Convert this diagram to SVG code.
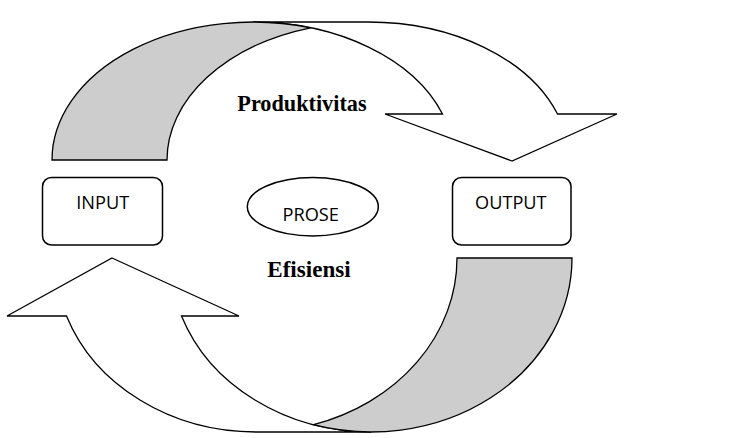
<svg xmlns="http://www.w3.org/2000/svg" width="734" height="438" viewBox="0 0 734 438">
<style>
.body{fill:#ffffff;stroke:#000;stroke-width:1.3;stroke-linejoin:miter}
.back{fill:#cdcdcd;stroke:#000;stroke-width:1.3}
.box{fill:#ffffff;stroke:#000;stroke-width:1.5}
.lbl{font-family:"Open Sans","Liberation Sans",sans-serif;font-size:17.5px;fill:#000;text-anchor:middle}
.big{font-family:"Liberation Serif","Times New Roman",serif;font-weight:bold;font-size:23.5px;fill:#000}
</style>
<rect width="734" height="438" fill="#ffffff"/>
<g id="connectors">
  <g id="arrow-produktivitas">
    <path class="body" d="M 512,161 L 385,114 L 442.5,114 A 201,138 0 0 0 253,22 L 368,22 A 201,138 0 0 1 557.5,114 L 617,114 Z"/>
    <path class="back" d="M 52,160 A 201,138 0 0 1 310.5,27.8 A 201,138 0 0 0 167,160 Z"/>
  </g>
  <g id="arrow-efisiensi">
    <path class="body" d="M 112,258 L 239,316 L 181.5,316 A 201,174 0 0 0 371,432 L 256,432 A 201,174 0 0 1 66.5,316 L 7,316 Z"/>
    <path class="back" d="M 572,258 A 201,174 0 0 1 313.5,424.7 A 201,174 0 0 0 457,258 Z"/>
  </g>
</g>
<g id="input">
  <rect class="box" x="42.5" y="177.5" width="120" height="67.5" rx="9"/>
  <text class="lbl" x="102.7" y="209" textLength="53" lengthAdjust="spacingAndGlyphs">INPUT</text>
</g>
<g id="output">
  <rect class="box" x="452.5" y="177.5" width="118.5" height="67.5" rx="9"/>
  <text class="lbl" x="510.8" y="209" textLength="71.5" lengthAdjust="spacingAndGlyphs">OUTPUT</text>
</g>
<g id="prose">
  <ellipse class="box" cx="312.8" cy="206.7" rx="65.5" ry="29.3"/>
  <text class="lbl" x="310.7" y="220.7" textLength="56.5" lengthAdjust="spacingAndGlyphs">PROSE</text>
</g>
<g id="label-produktivitas">
  <text class="big" x="237.3" y="111.3" textLength="129.3" lengthAdjust="spacingAndGlyphs">Produktivitas</text>
</g>
<g id="label-efisiensi">
  <text class="big" x="267.3" y="276.7" textLength="83.3" lengthAdjust="spacingAndGlyphs">Efisiensi</text>
</g>
</svg>
